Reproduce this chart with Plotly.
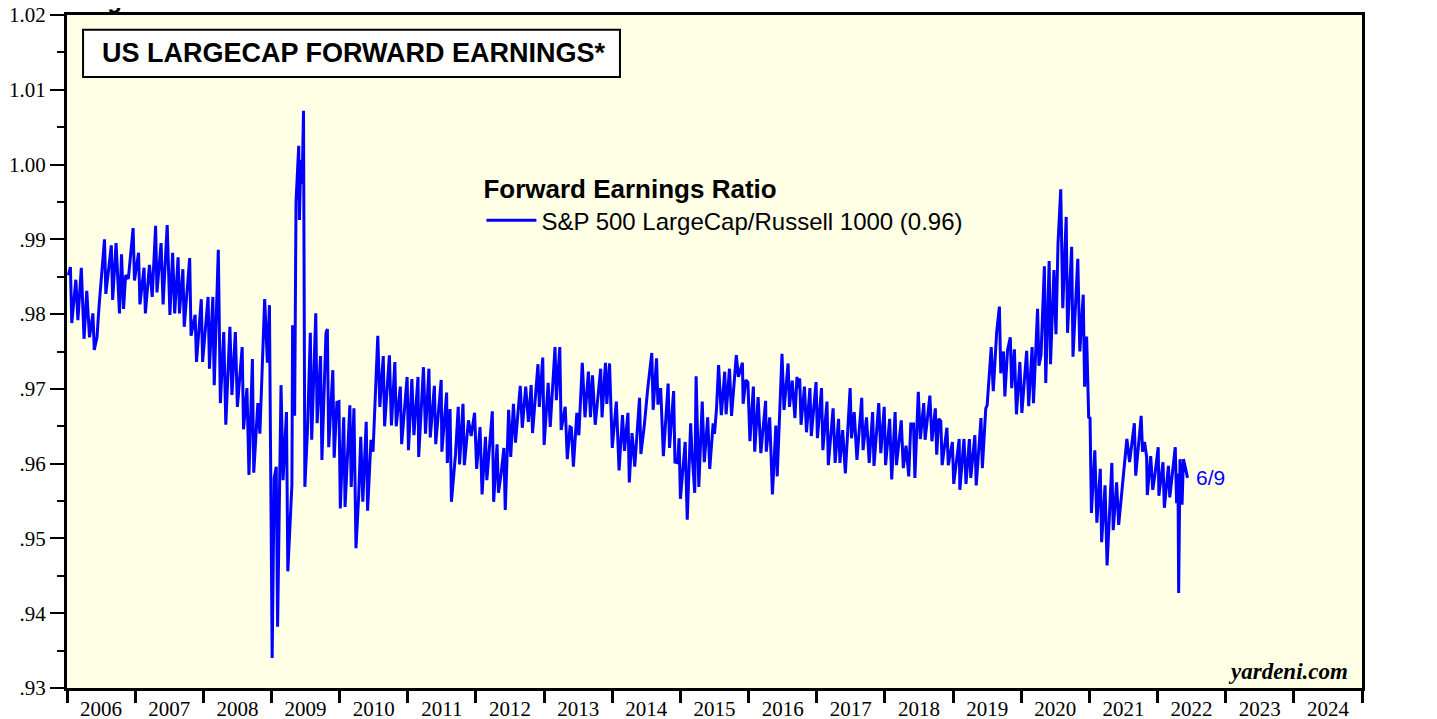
import plotly.graph_objects as go

# weekly-ish readings: decimal year, S&P 500 LargeCap / Russell 1000 forward earnings ratio
dates = [
    2006.02, 2006.05, 2006.07, 2006.13, 2006.16, 2006.21, 2006.25, 2006.29, 2006.33, 2006.38,
    2006.40, 2006.44, 2006.47, 2006.55, 2006.57, 2006.65, 2006.67, 2006.72, 2006.77, 2006.80,
    2006.83, 2006.86, 2006.90, 2006.94, 2006.97, 2006.99,
    2007.05, 2007.07, 2007.13, 2007.15, 2007.21, 2007.25, 2007.30, 2007.32, 2007.38, 2007.41,
    2007.47, 2007.51, 2007.55, 2007.58, 2007.63, 2007.65, 2007.70, 2007.72, 2007.80, 2007.82,
    2007.88, 2007.90, 2007.97, 2007.99,
    2008.07, 2008.09, 2008.14, 2008.16, 2008.22, 2008.25, 2008.30, 2008.33, 2008.39, 2008.42,
    2008.47, 2008.50, 2008.57, 2008.59, 2008.64, 2008.67, 2008.72, 2008.74, 2008.80, 2008.83,
    2008.90, 2008.94, 2008.97,
    2009.01, 2009.04, 2009.07, 2009.09, 2009.14, 2009.17, 2009.22, 2009.24, 2009.30, 2009.31,
    2009.34, 2009.36, 2009.40, 2009.41, 2009.43, 2009.45, 2009.47, 2009.49, 2009.53, 2009.57,
    2009.59, 2009.65, 2009.67, 2009.72, 2009.74, 2009.80, 2009.82, 2009.84, 2009.90, 2009.92,
    2009.96, 2009.99,
    2010.01, 2010.06, 2010.08, 2010.15, 2010.17, 2010.21, 2010.24, 2010.28, 2010.31, 2010.34,
    2010.39, 2010.41, 2010.46, 2010.49, 2010.56, 2010.59, 2010.64, 2010.66, 2010.73, 2010.76,
    2010.81, 2010.83, 2010.89, 2010.91, 2010.99,
    2011.01, 2011.06, 2011.09, 2011.15, 2011.16, 2011.23, 2011.26, 2011.31, 2011.33, 2011.39,
    2011.41, 2011.49, 2011.50, 2011.57, 2011.58, 2011.62, 2011.64, 2011.70, 2011.74, 2011.76,
    2011.81, 2011.83, 2011.89, 2011.93, 2011.98,
    2012.01, 2012.06, 2012.09, 2012.14, 2012.16, 2012.24, 2012.26, 2012.31, 2012.33, 2012.37,
    2012.41, 2012.43, 2012.48, 2012.51, 2012.55, 2012.58, 2012.65, 2012.68, 2012.73, 2012.77,
    2012.81, 2012.83, 2012.91, 2012.93, 2012.98,
    2013.00, 2013.06, 2013.09, 2013.16, 2013.18, 2013.23, 2013.25, 2013.31, 2013.34, 2013.38,
    2013.40, 2013.43, 2013.48, 2013.51, 2013.56, 2013.60, 2013.65, 2013.68, 2013.71, 2013.75,
    2013.83, 2013.85, 2013.90, 2013.92, 2013.96,
    2014.00, 2014.06, 2014.10, 2014.15, 2014.18, 2014.23, 2014.25, 2014.29, 2014.33, 2014.40,
    2014.42, 2014.47, 2014.52, 2014.58, 2014.60, 2014.65, 2014.67, 2014.71, 2014.75, 2014.82,
    2014.84, 2014.90, 2014.92, 2014.96, 2014.98,
    2015.00, 2015.07, 2015.10, 2015.15, 2015.17, 2015.21, 2015.23, 2015.27, 2015.32, 2015.35,
    2015.40, 2015.43, 2015.48, 2015.50, 2015.53, 2015.56, 2015.60, 2015.65, 2015.67, 2015.72,
    2015.75, 2015.82, 2015.85, 2015.91, 2015.92, 2015.96, 2015.99,
    2016.02, 2016.07, 2016.09, 2016.14, 2016.18, 2016.25, 2016.26, 2016.31, 2016.35, 2016.40,
    2016.42, 2016.49, 2016.52, 2016.58, 2016.60, 2016.64, 2016.68, 2016.71, 2016.72, 2016.75,
    2016.77, 2016.82, 2016.85, 2016.90, 2016.92, 2016.99,
    2017.01, 2017.07, 2017.09, 2017.15, 2017.17, 2017.24, 2017.27, 2017.32, 2017.34, 2017.38,
    2017.42, 2017.49, 2017.51, 2017.55, 2017.59, 2017.66, 2017.68, 2017.73, 2017.77, 2017.82,
    2017.84, 2017.91, 2017.94, 2017.99,
    2018.01, 2018.07, 2018.10, 2018.15, 2018.17, 2018.24, 2018.27, 2018.31, 2018.35, 2018.38,
    2018.42, 2018.44, 2018.49, 2018.52, 2018.57, 2018.59, 2018.66, 2018.69, 2018.74, 2018.76,
    2018.79, 2018.82, 2018.84, 2018.91, 2018.93, 2018.99,
    2019.01, 2019.09, 2019.10, 2019.16, 2019.19, 2019.24, 2019.26, 2019.32, 2019.34, 2019.41,
    2019.43, 2019.48, 2019.50, 2019.56, 2019.59, 2019.64, 2019.68, 2019.70, 2019.74, 2019.76,
    2019.80, 2019.84, 2019.86, 2019.90, 2019.93, 2019.98,
    2020.01, 2020.08, 2020.11, 2020.16, 2020.18, 2020.24, 2020.26, 2020.29, 2020.34, 2020.36,
    2020.41, 2020.43, 2020.48, 2020.51, 2020.54, 2020.58, 2020.61, 2020.66, 2020.68, 2020.74,
    2020.76, 2020.83, 2020.86, 2020.91, 2020.93, 2020.96, 2020.99,
    2021.01, 2021.03, 2021.08, 2021.11, 2021.16, 2021.18, 2021.23, 2021.26, 2021.33, 2021.35,
    2021.40, 2021.43, 2021.49, 2021.55, 2021.59, 2021.66, 2021.68, 2021.76, 2021.78, 2021.81,
    2021.84, 2021.85, 2021.90, 2021.93, 2021.96,
    2022.01, 2022.02, 2022.08, 2022.10, 2022.16, 2022.18, 2022.22, 2022.26, 2022.28, 2022.30,
    2022.31, 2022.33, 2022.36, 2022.38, 2022.41, 2022.44,
]

ratio = [
    0.9852, 0.9863, 0.9788, 0.9846, 0.9792, 0.9862, 0.9767, 0.9831, 0.9769, 0.9801,
    0.9752, 0.9769, 0.9810, 0.9900, 0.9827, 0.9892, 0.9819, 0.9895, 0.9801, 0.9880,
    0.9807, 0.9852, 0.9847, 0.9882, 0.9915, 0.9845,
    0.9882, 0.9813, 0.9862, 0.9801, 0.9866, 0.9823, 0.9918, 0.9829, 0.9895, 0.9813,
    0.9919, 0.9799, 0.9882, 0.9801, 0.9876, 0.9801, 0.9860, 0.9783, 0.9875, 0.9771,
    0.9799, 0.9736, 0.9820, 0.9736,
    0.9823, 0.9727, 0.9823, 0.9705, 0.9886, 0.9681, 0.9776, 0.9652, 0.9783, 0.9692,
    0.9776, 0.9676, 0.9756, 0.9646, 0.9701, 0.9585, 0.9740, 0.9588, 0.9681, 0.9640,
    0.9820, 0.9735, 0.9812,
    0.9340, 0.9581, 0.9596, 0.9382, 0.9705, 0.9578, 0.9669, 0.9456, 0.9572, 0.9785,
    0.9664, 0.9950, 1.0025, 0.9926, 1.0006, 0.9974, 1.0072, 0.9569, 0.9649, 0.9775,
    0.9632, 0.9801, 0.9654, 0.9744, 0.9605, 0.9775, 0.9780, 0.9622, 0.9725, 0.9608,
    0.9682, 0.9683,
    0.9540, 0.9662, 0.9542, 0.9678, 0.9569, 0.9674, 0.9487, 0.9558, 0.9636, 0.9549,
    0.9656, 0.9537, 0.9632, 0.9616, 0.9771, 0.9676, 0.9744, 0.9650, 0.9745, 0.9651,
    0.9736, 0.9650, 0.9703, 0.9626, 0.9716,
    0.9618, 0.9713, 0.9638, 0.9716, 0.9609, 0.9729, 0.9640, 0.9727, 0.9635, 0.9704,
    0.9626, 0.9712, 0.9616, 0.9695, 0.9601, 0.9673, 0.9549, 0.9612, 0.9676, 0.9599,
    0.9680, 0.9598, 0.9658, 0.9637, 0.9668,
    0.9593, 0.9649, 0.9559, 0.9636, 0.9578, 0.9670, 0.9549, 0.9626, 0.9561, 0.9587,
    0.9621, 0.9538, 0.9672, 0.9609, 0.9680, 0.9628, 0.9704, 0.9648, 0.9703, 0.9656,
    0.9705, 0.9641, 0.9733, 0.9676, 0.9742,
    0.9625, 0.9708, 0.9649, 0.9756, 0.9685, 0.9756, 0.9645, 0.9676, 0.9606, 0.9649,
    0.9648, 0.9596, 0.9668, 0.9638, 0.9735, 0.9662, 0.9723, 0.9662, 0.9718, 0.9652,
    0.9727, 0.9662, 0.9735, 0.9680, 0.9734,
    0.9621, 0.9683, 0.9591, 0.9665, 0.9617, 0.9668, 0.9575, 0.9641, 0.9596, 0.9688,
    0.9613, 0.9651, 0.9700, 0.9748, 0.9672, 0.9741, 0.9679, 0.9701, 0.9610, 0.9707,
    0.9621, 0.9697, 0.9602, 0.9601, 0.9634,
    0.9553, 0.9629, 0.9525, 0.9654, 0.9615, 0.9561, 0.9717, 0.9569, 0.9683, 0.9602,
    0.9662, 0.9593, 0.9654, 0.9640, 0.9674, 0.9732, 0.9665, 0.9723, 0.9666, 0.9727,
    0.9664, 0.9745, 0.9716, 0.9735, 0.9680, 0.9712, 0.9709,
    0.9630, 0.9703, 0.9616, 0.9689, 0.9614, 0.9684, 0.9616, 0.9662, 0.9559, 0.9651,
    0.9583, 0.9747, 0.9672, 0.9734, 0.9676, 0.9711, 0.9661, 0.9716, 0.9701, 0.9714,
    0.9652, 0.9703, 0.9642, 0.9701, 0.9637, 0.9709,
    0.9634, 0.9701, 0.9618, 0.9683, 0.9598, 0.9674, 0.9601, 0.9660, 0.9601, 0.9645,
    0.9587, 0.9701, 0.9634, 0.9669, 0.9605, 0.9688, 0.9618, 0.9662, 0.9601, 0.9669,
    0.9597, 0.9681, 0.9614, 0.9676,
    0.9598, 0.9660, 0.9579, 0.9669, 0.9598, 0.9658, 0.9594, 0.9624, 0.9583, 0.9653,
    0.9653, 0.9581, 0.9696, 0.9633, 0.9681, 0.9632, 0.9691, 0.9630, 0.9674, 0.9612,
    0.9660, 0.9657, 0.9598, 0.9648, 0.9598, 0.9629,
    0.9573, 0.9633, 0.9565, 0.9633, 0.9573, 0.9633, 0.9581, 0.9638, 0.9571, 0.9661,
    0.9594, 0.9674, 0.9678, 0.9756, 0.9697, 0.9776, 0.9810, 0.9721, 0.9750, 0.9690,
    0.9752, 0.9769, 0.9701, 0.9753, 0.9666, 0.9736,
    0.9668, 0.9751, 0.9677, 0.9756, 0.9681, 0.9807, 0.9731, 0.9745, 0.9864, 0.9708,
    0.9871, 0.9733, 0.9859, 0.9773, 0.9895, 0.9967, 0.9808, 0.9930, 0.9775, 0.9890,
    0.9743, 0.9874, 0.9750, 0.9826, 0.9703, 0.9770, 0.9662,
    0.9661, 0.9534, 0.9618, 0.9521, 0.9593, 0.9495, 0.9571, 0.9464, 0.9601, 0.9511,
    0.9575, 0.9518, 0.9574, 0.9633, 0.9602, 0.9654, 0.9584, 0.9664, 0.9616, 0.9629,
    0.9609, 0.9558, 0.9610, 0.9565, 0.9584,
    0.9622, 0.9557, 0.9602, 0.9541, 0.9597, 0.9555, 0.9587, 0.9622, 0.9547, 0.9587,
    0.9427, 0.9606, 0.9545, 0.9606, 0.9594, 0.9581,
]

years = list(range(2006, 2025))
year_labels = [str(y) for y in years]
year_edges = list(range(2006, 2026))

ytick_vals = [0.93, 0.94, 0.95, 0.96, 0.97, 0.98, 0.99, 1.00, 1.01, 1.02]
ytick_text = ['.93', '.94', '.95', '.96', '.97', '.98', '.99', '1.00', '1.01', '1.02']
yminor_vals = [0.935, 0.945, 0.955, 0.965, 0.975, 0.985, 0.995, 1.005, 1.015]

last_label = '6/9'

fig = go.Figure()

fig.add_trace(go.Scatter(
    x=dates, y=ratio,
    mode='lines',
    name='S&P 500 LargeCap/Russell 1000 (0.96)',
    line=dict(color='#0000FF', width=3),
))

serif = dict(family='Liberation Serif', size=21, color='black')

# page body adds an 8px margin, so the figure is sized to fit inside the window
fig.update_layout(
    width=1429, height=711,
    margin=dict(l=59, r=75, t=7, b=31, autoexpand=False),
    paper_bgcolor='white',
    plot_bgcolor='#FFFFE6',
    showlegend=True,
    legend=dict(
        x=0.32, y=0.778, xanchor='left', yanchor='top',
        bgcolor='rgba(0,0,0,0)',
        title=dict(text='<b>Forward Earnings Ratio</b>',
                   font=dict(family='Liberation Sans', size=26, color='black')),
        font=dict(family='Liberation Sans', size=24, color='black'),
        itemwidth=50,
        tracegroupgap=0,
    ),
    xaxis=dict(
        range=[2006, 2025], automargin=False,
        tickmode='array', tickvals=[y + 0.5 for y in years], ticktext=year_labels,
        ticks='', tickfont=serif, ticklabeloverflow='allow',
        showgrid=False, zeroline=False,
        showline=True, linewidth=3, linecolor='black', mirror=True,
        minor=dict(tickmode='array', tickvals=year_edges, ticks='outside',
                   ticklen=12, tickwidth=3, tickcolor='black', showgrid=False),
    ),
    yaxis=dict(
        range=[0.93, 1.02], automargin=False,
        tickmode='array', tickvals=ytick_vals, ticktext=ytick_text,
        ticks='outside', ticklen=14, tickwidth=1.5, tickcolor='black',
        tickfont=serif, ticklabeloverflow='allow',
        showgrid=False, zeroline=False,
        showline=True, linewidth=3, linecolor='black', mirror=True,
        minor=dict(tickmode='array', tickvals=yminor_vals, ticks='outside',
                   ticklen=7, tickwidth=1.5, tickcolor='black', showgrid=False),
    ),
    yaxis2=dict(
        range=[0.93, 1.02], overlaying='y', side='right', automargin=False,
        tickmode='array', tickvals=ytick_vals, ticktext=ytick_text,
        ticks='outside', ticklen=14, tickwidth=1.5, tickcolor='black',
        tickfont=serif, ticklabeloverflow='allow',
        showgrid=False, zeroline=False,
        showline=True, linewidth=3, linecolor='black',
        minor=dict(tickmode='array', tickvals=yminor_vals, ticks='outside',
                   ticklen=7, tickwidth=1.5, tickcolor='black', showgrid=False),
    ),
)

# title box
fig.add_shape(type='rect', xref='paper', yref='paper',
              x0=0.0124, x1=0.427, y0=0.908, y1=0.978,
              line=dict(color='black', width=2), fillcolor='white', layer='above')
fig.add_annotation(xref='paper', yref='paper', x=0.0255, y=0.944,
                   xanchor='left', yanchor='middle', showarrow=False,
                   text='<b>US LARGECAP FORWARD EARNINGS*</b>',
                   font=dict(family='Liberation Sans', size=27, color='black'))

# header line that sits mostly above the top edge, as in the source
fig.add_annotation(xref='paper', yref='paper', x=0.013, y=1.0,
                   xanchor='left', yanchor='bottom', showarrow=False,
                   text='<b>Figure 3.</b>',
                   font=dict(family='Liberation Sans', size=24, color='black'))

# last-value date label
fig.add_annotation(x=dates[-1], y=ratio[-1], xanchor='left', yanchor='middle',
                   xshift=6, showarrow=False, text=last_label,
                   font=dict(family='Liberation Sans', size=21, color='#0000FF'))

fig.add_annotation(xref='paper', yref='paper', x=0.991, y=0.024,
                   xanchor='right', yanchor='middle', showarrow=False,
                   text='<b><i>yardeni.com</i></b>',
                   font=dict(family='Liberation Serif', size=23, color='black'))

fig.write_html("out.html")
